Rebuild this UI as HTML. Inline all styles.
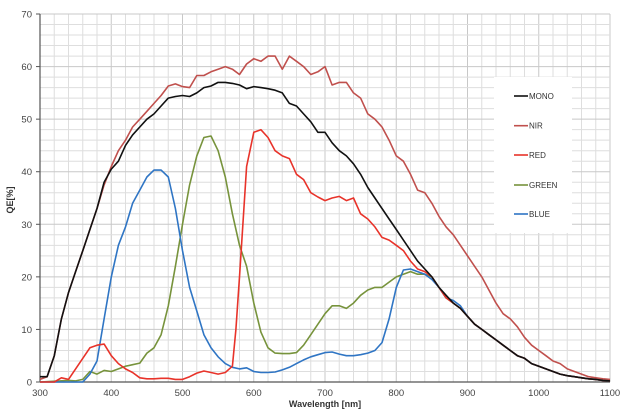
<!DOCTYPE html>
<html><head><meta charset="utf-8"><style>
html,body{margin:0;padding:0;background:#fff;}
svg{display:block;font-family:"Liberation Sans",sans-serif;}
</style></head><body>
<svg id="s" width="633" height="412" xmlns="http://www.w3.org/2000/svg"></svg>
<script>
const s=document.getElementById('s');
const X=l=>40+(l-300)*0.7125, Y=q=>382-q*5.257;
let h='';
for(let l=300;l<=1100;l+=20){const x=X(l);h+=`<line x1="${x}" y1="14" x2="${x}" y2="382" stroke="${l%100==0?'#c8c8c8':'#dedede'}" stroke-width="1"/>`;}
for(let q=0;q<=70;q+=2){const y=Y(q);h+=`<line x1="40" y1="${y}" x2="610" y2="${y}" stroke="${q%10==0?'#c8c8c8':'#dedede'}" stroke-width="1"/>`;}
h+=`<line x1="40" y1="14" x2="40" y2="382" stroke="#555" stroke-width="1.2"/><line x1="40" y1="382" x2="610" y2="382" stroke="#555" stroke-width="1.2"/>`;
for(let q=0;q<=70;q+=10){h+=`<text x="32" y="${Y(q)+3.5}" font-size="9.5" fill="#444" text-anchor="end">${q}</text><line x1="36" y1="${Y(q)}" x2="40" y2="${Y(q)}" stroke="#555"/>`;}
for(let l=300;l<=1100;l+=100){h+=`<text x="${X(l)}" y="396" font-size="9.5" fill="#444" text-anchor="middle">${l}</text>`;}
h+=`<text x="325" y="407" font-size="9" font-weight="bold" fill="#333" text-anchor="middle">Wavelength [nm]</text>`;
h+=`<text x="13" y="200" font-size="9" font-weight="bold" fill="#333" text-anchor="middle" transform="rotate(-90 13 200)">QE[%]</text>`;
function P(str){return str.trim().split(/\s*,\s*/).map(p=>p.split(':').map(Number));}
const tail=P("910:11,920:10,930:9,940:8,950:7,960:6,970:5,980:4.5,990:3.5,1000:3,1010:2.5,1020:2,1030:1.5,1040:1.2,1050:1,1060:0.8,1070:0.6,1080:0.5,1090:0.3,1100:0.2");
const mono=P("300:1,310:1,320:5,330:12,340:17,350:21,360:25,370:29,380:33,390:38,400:40.5,410:42,420:45,430:47,440:48.5,450:50,460:51,470:52.5,480:54,490:54.3,500:54.5,510:54.3,520:55,530:56,540:56.3,550:57,560:57,570:56.8,580:56.5,590:55.8,600:56.2,610:56,620:55.8,630:55.5,640:55,650:53,660:52.5,670:51,680:49.5,690:47.5,700:47.5,710:45.5,720:44,730:43,740:41.5,750:39.5,760:37,770:35,780:33,790:31,800:29,810:27,820:25,830:23,840:21.5,850:20,860:18,870:16.5,880:15,890:14,900:12.5").concat(tail);
const nir=P("300:0.5,310:1,320:5,330:12,340:17,350:21,360:25,370:29,380:33,390:37.5,400:41,410:44,420:46,430:48.5,440:50,450:51.5,460:53,470:54.5,480:56.3,490:56.7,500:56.2,510:56,520:58.3,530:58.3,540:59,550:59.5,560:60,570:59.5,580:58.5,590:60.5,600:61.5,610:61,620:62,630:62,640:59.5,650:62,660:61,670:60,680:58.5,690:59,700:60,710:56.5,720:57,730:57,740:55,750:54,760:51,770:50,780:48.5,790:46,800:43,810:42,820:39.5,830:36.5,840:36,850:34,860:31.5,870:29.5,880:28,890:26,900:24,910:22,920:20,930:17.5,940:15,950:13,960:12,970:10.5,980:8.5,990:7,1000:6,1010:5,1020:4,1030:3.5,1040:2.5,1050:2,1060:1.5,1070:1,1080:0.8,1090:0.6,1100:0.5");
const red=P("300:0,320:0,330:0.8,340:0.5,350:2.5,360:4.5,370:6.5,380:7,390:7.2,400:5,410:3.5,420:2.5,430:1.8,440:0.8,450:0.6,460:0.6,470:0.7,480:0.7,490:0.5,500:0.5,510:1,520:1.7,530:2.1,540:1.8,550:1.5,560:1.8,570:3,575:10,580:20,590:41,600:47.5,610:48,620:46.5,630:44,640:43,650:42.5,660:39.5,670:38.5,680:36,690:35.2,700:34.5,710:35,720:35.3,730:34.5,740:35,750:32,760:31,770:29.5,780:27.5,790:27,800:26,810:25,820:23,830:21.5,840:21,850:20,860:18,870:16,880:15,890:14,900:12.5").concat(tail);
const green=P("300:0,340:0.3,350:0.2,360:0.5,370:2,380:1.5,390:2.2,400:2,410:2.5,420:3,430:3.3,440:3.6,450:5.5,460:6.5,470:9,480:14.5,490:22,500:30,510:37.5,520:43,530:46.5,540:46.8,550:44,560:39,570:32,580:26,590:22,600:15,610:9.5,620:6.5,630:5.5,640:5.4,650:5.4,660:5.6,670:7,680:9,690:11,700:13,710:14.5,720:14.5,730:14,740:15,750:16.5,760:17.5,770:18,780:18,790:19,800:20,810:20.5,820:21,830:20.5,840:20.5,850:20,860:18,870:16,880:15,890:14,900:12.5").concat(tail);
const blue=P("300:0,360:0,370:1.5,380:4,390:12,400:20,410:26,420:29.5,430:34,440:36.5,450:39,460:40.3,470:40.3,480:39,490:33,500:25,510:18,520:13.5,530:9,540:6.5,550:4.8,560:3.5,570:2.8,580:2.5,590:2.7,600:2,610:1.8,620:1.8,630:1.9,640:2.3,650:2.8,660:3.5,670:4.2,680:4.8,690:5.2,700:5.6,710:5.7,720:5.3,730:5,740:5,750:5.2,760:5.5,770:6,780:7.5,790:12,800:18,810:21.3,820:21.5,830:21,840:20.5,850:19.5,860:18,870:16,880:15.5,890:14.5,900:12.5").concat(tail);
const series=[[nir,'#c0504d'],[green,'#77933c'],[blue,'#2f75c4'],[red,'#e8332a'],[mono,'#111']];
for(const [d,c] of series){h+=`<polyline fill="none" stroke="${c}" stroke-width="1.6" stroke-linejoin="round" points="${d.map(p=>X(p[0]).toFixed(1)+','+Y(p[1]).toFixed(1)).join(' ')}"/>`;}
h+=`<rect x="494" y="77" width="78" height="156" fill="#fff"/>`;
const lg=[['MONO','#111',96],['NIR','#c0504d',125.7],['RED','#e8332a',155],['GREEN','#77933c',185],['BLUE','#2f75c4',214]];
for(const [t,c,y] of lg){h+=`<line x1="514" y1="${y}" x2="528" y2="${y}" stroke="${c}" stroke-width="1.6"/><text x="529" y="${y+3}" font-size="8" fill="#333">${t}</text>`;}
s.innerHTML=h;
</script>
</body></html>
